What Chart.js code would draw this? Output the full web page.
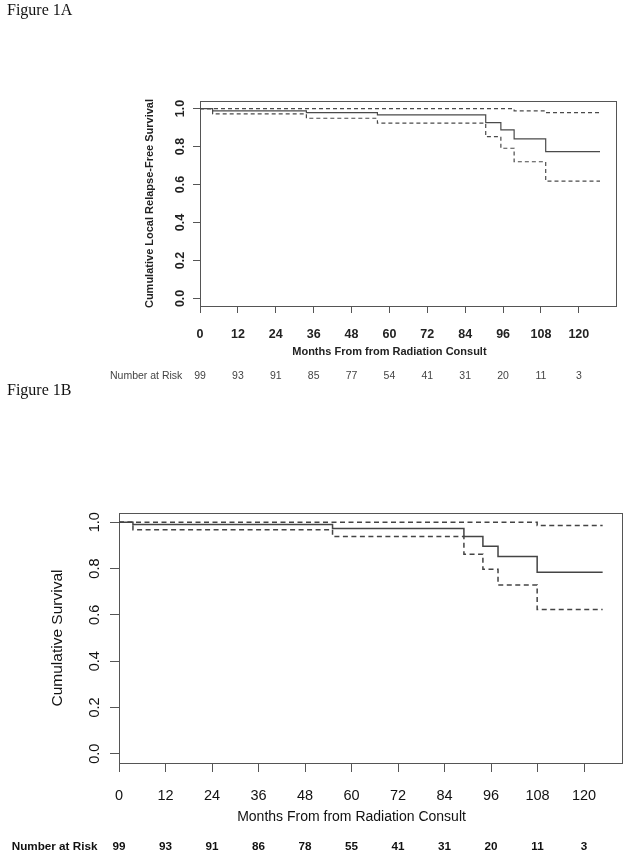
<!DOCTYPE html>
<html><head><meta charset="utf-8">
<script src="https://cdn.jsdelivr.net/npm/chart.js@4.4.0/dist/chart.umd.min.js"></script>
<style>
html,body{margin:0;padding:0;background:#fff;}
body{width:629px;height:858px;position:relative;overflow:hidden;}
canvas{position:absolute;left:0;}
.fig{position:absolute;left:7px;font-family:"Liberation Serif","Times New Roman",serif;font-size:16px;color:#111;line-height:1;white-space:nowrap;}
</style></head><body>
<canvas id="cA" width="629" height="400" style="top:0px"></canvas>
<canvas id="cB" width="629" height="458" style="top:400px"></canvas>
<div class="fig" style="top:2px">Figure 1A</div>
<div class="fig" style="top:382px">Figure 1B</div>
<script>
// ---- data ----
const xTicks = [0, 12, 24, 36, 48, 60, 72, 84, 96, 108, 120];
const yTicks = [0, 0.2, 0.4, 0.6, 0.8, 1.0];
const yTickLabels = ["0.0", "0.2", "0.4", "0.6", "0.8", "1.0"];
const xTitle = "Months From from Radiation Consult";
const yTitleA = "Cumulative Local Relapse-Free Survival";
const yTitleB = "Cumulative Survival";
const riskLabel = "Number at Risk";
const atRiskA = [99, 93, 91, 85, 77, 54, 41, 31, 20, 11, 3];
const atRiskB = [99, 93, 91, 86, 78, 55, 41, 31, 20, 11, 3];

const timesA = [0, 4.0, 33.7, 56.2, 90.5, 95.3, 99.5, 109.5, 126.7];
const survA  = [1, 0.988, 0.979, 0.967, 0.926, 0.888, 0.840, 0.773, 0.773];
const upperA = [1, 1.0, 1.0, 1.0, 1.0, 1.0, 0.988, 0.979, 0.979];
const lowerA = [1, 0.972, 0.949, 0.923, 0.852, 0.791, 0.720, 0.618, 0.618];

const timesB = [0, 3.6, 55.1, 89.0, 93.9, 97.8, 107.9, 124.8];
const survB  = [1, 0.990, 0.973, 0.939, 0.896, 0.852, 0.784, 0.784];
const upperB = [1, 1.0, 1.0, 1.0, 1.0, 1.0, 0.986, 0.986];
const lowerB = [1, 0.968, 0.939, 0.862, 0.797, 0.729, 0.623, 0.623];

// ---- styling / layout ----
const SANS = '"Liberation Sans", Arial, Helvetica, sans-serif';
const styleA = {
  canvasH: 400, areaLeft: 200, areaTop: 101, areaRight: 616, areaBottom: 306,
  tickLen: 7, lineColor: '#4a4a4a', boxColor: '#555', lw: 1.2, dash: [4, 3],
  tickFont: 'bold', tickSize: 12.5, tickColor: '#222',
  xTickY: 333, yTickX: 179,
  titleWeight: 'bold', xTitleSize: 11, xTitleY: 351.5, yTitleSize: 11, yTitleX: 149,
  riskWeight: 'normal', riskSize: 10.5, riskY: 375.3, riskX: 110, riskColor: '#444'
};
const styleB = {
  canvasH: 458, areaLeft: 119, areaTop: 113, areaRight: 622, areaBottom: 363,
  tickLen: 9, lineColor: '#444', boxColor: '#555', lw: 1.5, dash: [5, 3.5],
  tickFont: 'normal', tickSize: 14.5, tickColor: '#111',
  xTickY: 394.3, yTickX: 94,
  titleWeight: 'normal', xTitleSize: 14, xTitleY: 415.8, yTitleSize: 15.5, yTitleX: 56,
  riskWeight: 'bold', riskSize: 11.7, riskY: 445.7, riskX: 11.7, riskColor: '#111'
};

const boxPlugin = {
  id: 'kmBox',
  beforeDatasetsDraw(chart, args, o) {
    const a = chart.chartArea, ctx = chart.ctx;
    ctx.save();
    ctx.strokeStyle = o.color; ctx.lineWidth = 1;
    const l = Math.round(a.left) + 0.5, t = Math.round(a.top) + 0.5;
    const r = Math.round(a.right) + 0.5, b = Math.round(a.bottom) + 0.5;
    ctx.strokeRect(l, t, r - l, b - t);
    ctx.restore();
  }
};

const textPlugin = {
  id: 'kmText',
  afterDraw(chart, args, o) {
    const ctx = chart.ctx, xs = chart.scales.x, ys = chart.scales.y, s = o.s;
    ctx.save();
    ctx.textAlign = 'center'; ctx.textBaseline = 'alphabetic';
    // x tick labels
    ctx.fillStyle = s.tickColor;
    ctx.font = s.tickFont + ' ' + s.tickSize + 'px ' + SANS;
    xTicks.forEach(v => ctx.fillText(String(v), xs.getPixelForValue(v), s.xTickY + 0.36 * s.tickSize));
    // y tick labels (rotated)
    yTicks.forEach((v, i) => {
      ctx.save();
      ctx.translate(s.yTickX, ys.getPixelForValue(v));
      ctx.rotate(-Math.PI / 2);
      ctx.fillText(yTickLabels[i], 0, 0.36 * s.tickSize);
      ctx.restore();
    });
    // x title
    ctx.font = s.titleWeight + ' ' + s.xTitleSize + 'px ' + SANS;
    ctx.fillText(xTitle, xs.getPixelForValue(60), s.xTitleY + 0.36 * s.xTitleSize);
    // y title
    ctx.save();
    ctx.font = s.titleWeight + ' ' + s.yTitleSize + 'px ' + SANS;
    ctx.translate(s.yTitleX, ys.getPixelForValue(0.5));
    ctx.rotate(-Math.PI / 2);
    ctx.fillText(o.yTitle, 0, 0.36 * s.yTitleSize);
    ctx.restore();
    // number at risk
    ctx.fillStyle = s.riskColor;
    ctx.font = s.riskWeight + ' ' + s.riskSize + 'px ' + SANS;
    ctx.textAlign = 'left';
    ctx.fillText(riskLabel, s.riskX, s.riskY + 0.36 * s.riskSize);
    ctx.textAlign = 'center';
    o.atRisk.forEach((n, i) => ctx.fillText(String(n), xs.getPixelForValue(xTicks[i]), s.riskY + 0.36 * s.riskSize));
    ctx.restore();
  }
};

function makeKM(id, s, times, surv, upper, lower, atRisk, yTitle) {
  const pts = arr => times.map((t, i) => ({ x: t, y: arr[i] }));
  const xMax = Math.max(...times) * 1.04;
  const grid = { display: true, drawOnChartArea: false, drawTicks: true, tickLength: s.tickLen, color: s.boxColor, lineWidth: 1 };
  return new Chart(document.getElementById(id), {
    type: 'line',
    data: {
      datasets: [
        { data: pts(surv), borderColor: s.lineColor, borderWidth: s.lw, stepped: true, pointRadius: 0, fill: false },
        { data: pts(upper), borderColor: s.lineColor, borderWidth: s.lw, borderDash: s.dash, stepped: true, pointRadius: 0, fill: false },
        { data: pts(lower), borderColor: s.lineColor, borderWidth: s.lw, borderDash: s.dash, stepped: true, pointRadius: 0, fill: false }
      ]
    },
    options: {
      responsive: false, animation: false, devicePixelRatio: 1,
      layout: { padding: { left: 0, top: s.areaTop, right: 629 - s.areaRight, bottom: 0 } },
      plugins: {
        legend: { display: false }, tooltip: { enabled: false },
        kmBox: { color: s.boxColor },
        kmText: { s: s, atRisk: atRisk, yTitle: yTitle }
      },
      scales: {
        x: {
          type: 'linear', min: 0, max: xMax,
          afterBuildTicks: sc => { sc.ticks = xTicks.map(v => ({ value: v })); },
          afterFit: sc => { sc.height = s.canvasH - s.areaBottom; },
          grid: grid, border: { display: false }, ticks: { display: false }
        },
        y: {
          type: 'linear', min: -0.04, max: 1.04,
          afterBuildTicks: sc => { sc.ticks = yTicks.map(v => ({ value: v })); },
          afterFit: sc => { sc.width = s.areaLeft; },
          grid: grid, border: { display: false }, ticks: { display: false }
        }
      }
    },
    plugins: [boxPlugin, textPlugin]
  });
}

makeKM('cA', styleA, timesA, survA, upperA, lowerA, atRiskA, yTitleA);
makeKM('cB', styleB, timesB, survB, upperB, lowerB, atRiskB, yTitleB);
</script>
</body></html>
